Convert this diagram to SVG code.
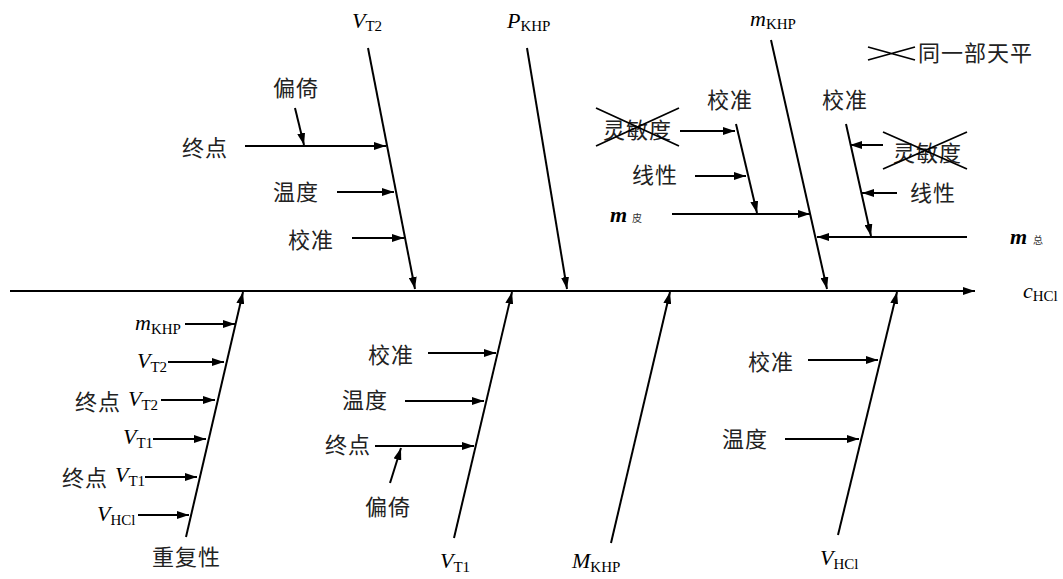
<svg xmlns="http://www.w3.org/2000/svg" width="1063" height="579" viewBox="0 0 1063 579">
<style>
.cn{font-family:"Noto Sans CJK SC","Noto Sans CJK JP",sans-serif;font-size:22px;letter-spacing:1px;fill:#222}
.v{font-family:"Liberation Serif",serif;font-style:italic;font-size:22px;fill:#000}
.b{font-weight:bold}
.sub{font-style:normal;font-size:15px}
.tiny{font-family:"Noto Sans CJK SC",sans-serif;font-size:10px;fill:#333}
.ln{stroke:#000;stroke-width:2;fill:none}
.ar{stroke:#000;stroke-width:2;fill:none;marker-end:url(#ah)}
.x{stroke:#000;stroke-width:1.8;fill:none}
</style>
<defs>
<marker id="ah" viewBox="0 0 12 8" refX="12" refY="4" markerWidth="12" markerHeight="8" markerUnits="userSpaceOnUse" orient="auto">
<path d="M0,0 L12,4 L0,8 z" fill="#000"/>
</marker>
</defs>
<rect width="1063" height="579" fill="#fff"/>
<g id="connectors">
<path class="ar" d="M10,291 L975,291"/>
<path class="ar" d="M368,48 L415,289"/>
<path class="ar" d="M527,48 L567,289"/>
<path class="ar" d="M771,40 L827,289"/>
<path class="ar" d="M245,146 L386,146"/>
<path class="ar" d="M295,108 L304,145"/>
<path class="ar" d="M337,192 L394,192"/>
<path class="ar" d="M352,238 L404,238"/>
<path class="ar" d="M736,124 L757,213"/>
<path class="ar" d="M680,131 L735,131"/>
<path class="ar" d="M695,176 L746,176"/>
<path class="ar" d="M672,214 L810,214"/>
<path class="ar" d="M846,124 L871,236"/>
<path class="ar" d="M883,145 L850,145"/>
<path class="ar" d="M897,193 L862,193"/>
<path class="ar" d="M967,237 L817,237"/>
<path class="ar" d="M186,537 L243,292"/>
<path class="ar" d="M185,324 L235,324"/>
<path class="ar" d="M168,362 L224,362"/>
<path class="ar" d="M161,400 L215,400"/>
<path class="ar" d="M153,439 L206,439"/>
<path class="ar" d="M145,477 L197,477"/>
<path class="ar" d="M138,515 L189,515"/>
<path class="ar" d="M454,538 L512,292"/>
<path class="ar" d="M428,353 L496,353"/>
<path class="ar" d="M405,401 L484,401"/>
<path class="ar" d="M375,446 L474,446"/>
<path class="ar" d="M390,483 L401,448"/>
<path class="ar" d="M611,543 L670,292"/>
<path class="ar" d="M838,535 L897,292"/>
<path class="ar" d="M808,360 L878,360"/>
<path class="ar" d="M785,439 L859,439"/>
</g>
<g id="vt2"><text class="v" x="352" y="28">V<tspan class="sub" dy="3">T2</tspan></text></g>
<g id="pkhp"><text class="v" x="507" y="28">P<tspan class="sub" dy="3">KHP</tspan></text></g>
<g id="mkhp-top"><text class="v" x="750" y="26">m<tspan class="sub" dy="3">KHP</tspan></text></g>
<g id="legend">
<path class="x" d="M868,47 L915,60 M868,60 L915,47"/>
<text class="cn" x="918" y="61">同一部天平</text>
</g>
<g id="vt2-causes">
<text class="cn" x="273" y="96">偏倚</text>
<text class="cn" x="182" y="156">终点</text>
<text class="cn" x="273" y="200">温度</text>
<text class="cn" x="288" y="248">校准</text>
</g>
<g id="mpi-causes">
<text class="cn" x="603" y="138">灵敏度</text>
<path class="x" d="M596,108 L679,146 M596,146 L679,108"/>
<text class="cn" x="707" y="108">校准</text>
<text class="cn" x="632" y="183">线性</text>
<text class="v b" x="610" y="222">m</text><text class="tiny" x="632" y="222">皮</text>
</g>
<g id="mzong-causes">
<text class="cn" x="822" y="108">校准</text>
<text class="cn" x="893" y="161">灵敏度</text>
<path class="x" d="M883,132 L967,169 M883,169 L967,132"/>
<text class="cn" x="910" y="201">线性</text>
<text class="v b" x="1010" y="244">m</text><text class="tiny" x="1033" y="244">总</text>
</g>
<g id="chcl"><text class="v" x="1023" y="298">c<tspan class="sub" dy="3">HCl</tspan></text></g>
<g id="repeat">
<text class="v" x="135" y="330">m<tspan class="sub" dy="4">KHP</tspan></text>
<text class="v" x="137" y="368">V<tspan class="sub" dy="4">T2</tspan></text>
<text class="cn" x="75" y="410">终点</text><text class="v" x="128" y="406">V<tspan class="sub" dy="4">T2</tspan></text>
<text class="v" x="123" y="444">V<tspan class="sub" dy="4">T1</tspan></text>
<text class="cn" x="62" y="486">终点</text><text class="v" x="115" y="482">V<tspan class="sub" dy="4">T1</tspan></text>
<text class="v" x="97" y="521">V<tspan class="sub" dy="4">HCl</tspan></text>
<text class="cn" x="152" y="565">重复性</text>
</g>
<g id="vt1">
<text class="cn" x="368" y="363">校准</text>
<text class="cn" x="342" y="408">温度</text>
<text class="cn" x="325" y="453">终点</text>
<text class="cn" x="365" y="515">偏倚</text>
<text class="v" x="440" y="568">V<tspan class="sub" dy="4">T1</tspan></text>
</g>
<g id="Mkhp"><text class="v" x="572" y="568">M<tspan class="sub" dy="4">KHP</tspan></text></g>
<g id="vhcl">
<text class="cn" x="748" y="370">校准</text>
<text class="cn" x="722" y="447">温度</text>
<text class="v" x="820" y="565">V<tspan class="sub" dy="4">HCl</tspan></text>
</g>
</svg>
